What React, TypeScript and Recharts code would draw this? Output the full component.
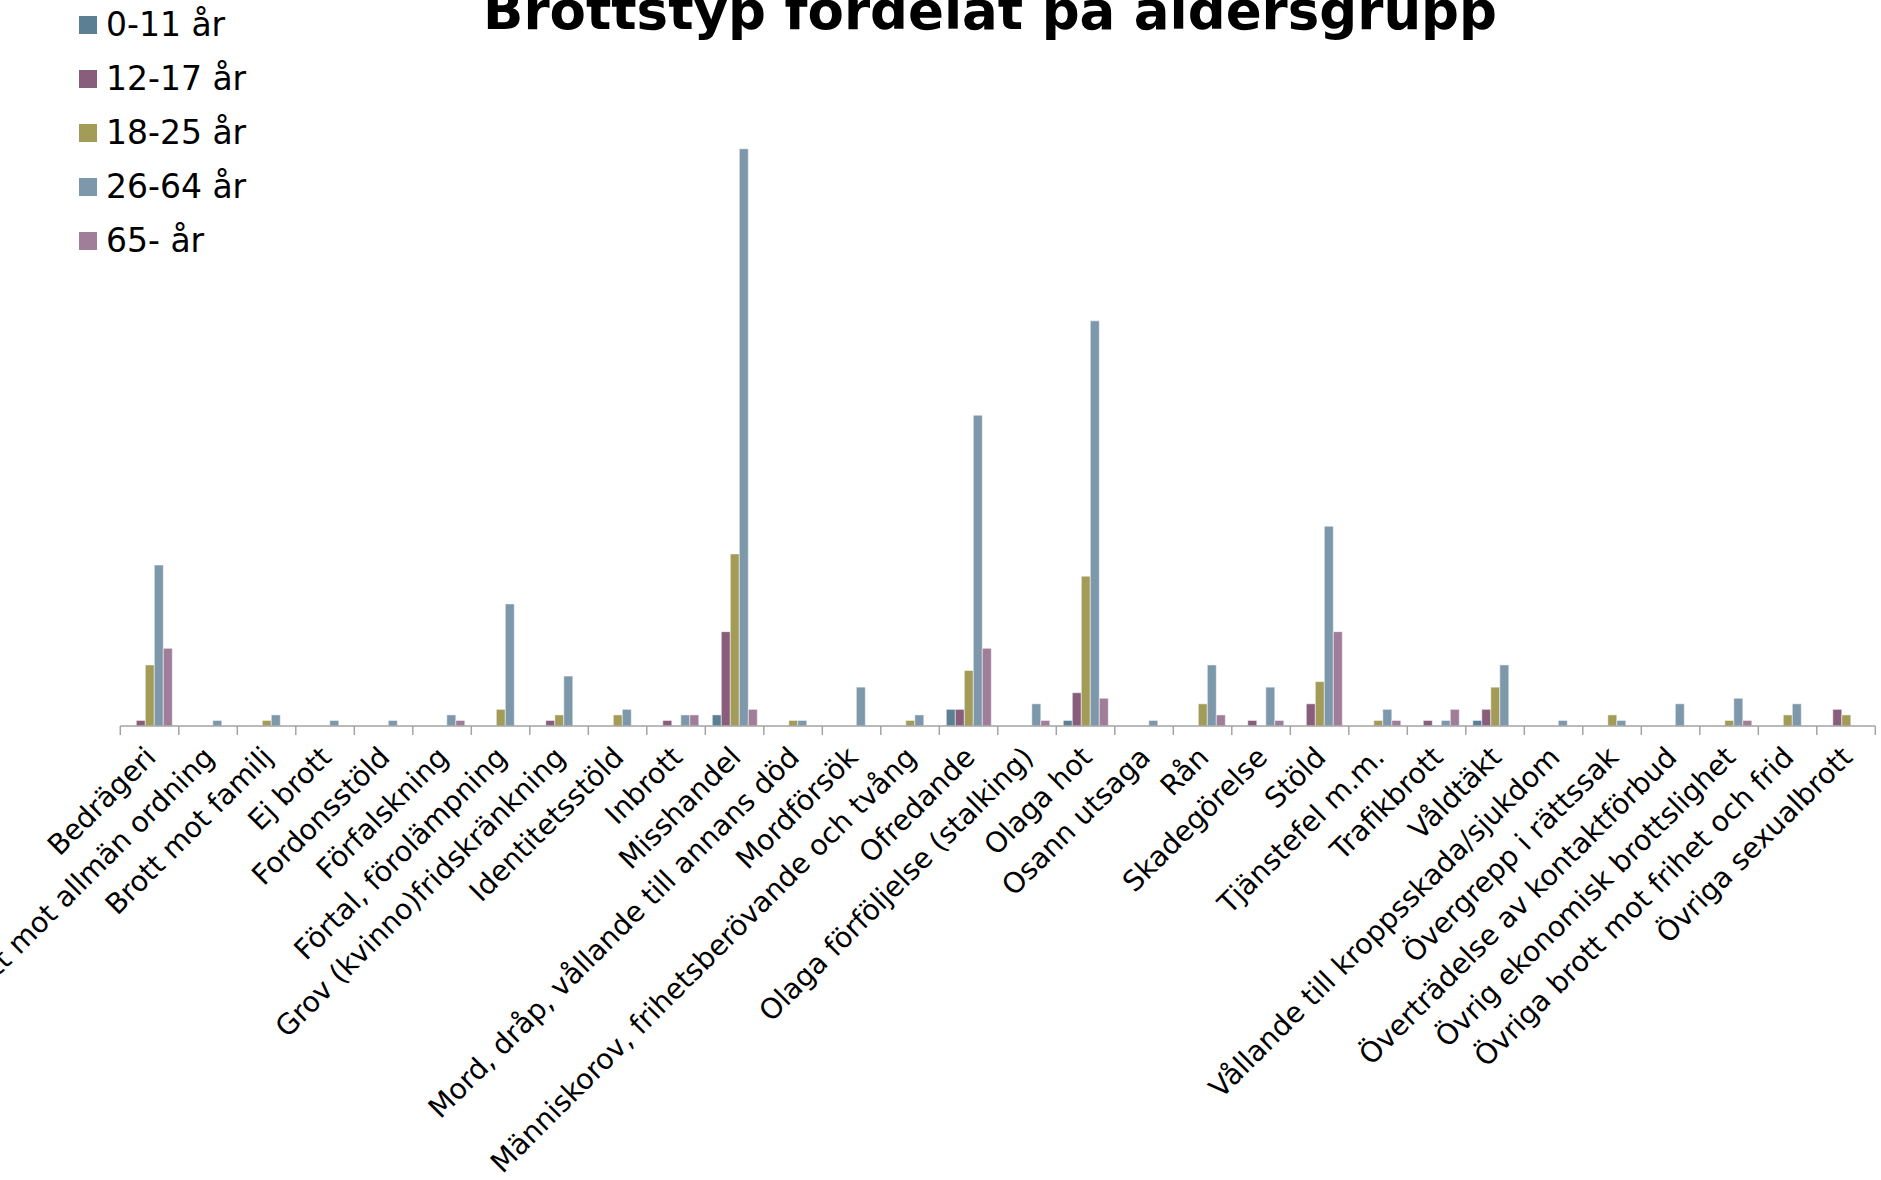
import React from "react";
import { BarChart, Bar, XAxis, YAxis, Legend } from "recharts";

const categories = [
  "Bedrägeri",
  "Brott mot allmän ordning",
  "Brott mot familj",
  "Ej brott",
  "Fordonsstöld",
  "Förfalskning",
  "Förtal, förolämpning",
  "Grov (kvinno)fridskränkning",
  "Identitetsstöld",
  "Inbrott",
  "Misshandel",
  "Mord, dråp, vållande till annans död",
  "Mordförsök",
  "Människorov, frihetsberövande och tvång",
  "Ofredande",
  "Olaga förföljelse (stalking)",
  "Olaga hot",
  "Osann utsaga",
  "Rån",
  "Skadegörelse",
  "Stöld",
  "Tjänstefel m.m.",
  "Trafikbrott",
  "Våldtäkt",
  "Vållande till kroppsskada/sjukdom",
  "Övergrepp i rättssak",
  "Överträdelse av kontaktförbud",
  "Övrig ekonomisk brottslighet",
  "Övriga brott mot frihet och frid",
  "Övriga sexualbrott",
];

const age0to11 = [0, 0, 0, 0, 0, 0, 0, 0, 0, 0, 2, 0, 0, 0, 3, 0, 1, 0, 0, 0, 0, 0, 0, 1, 0, 0, 0, 0, 0, 0];
const age12to17 = [1, 0, 0, 0, 0, 0, 0, 1, 0, 1, 17, 0, 0, 0, 3, 0, 6, 0, 0, 1, 4, 0, 1, 3, 0, 0, 0, 0, 0, 3];
const age18to25 = [11, 0, 1, 0, 0, 0, 3, 2, 2, 0, 31, 1, 0, 1, 10, 0, 27, 0, 4, 0, 8, 1, 0, 7, 0, 2, 0, 1, 2, 2];
const age26to64 = [29, 1, 2, 1, 1, 2, 22, 9, 3, 2, 104, 1, 7, 2, 56, 4, 73, 1, 11, 7, 36, 3, 1, 11, 1, 1, 4, 5, 4, 0];
const age65plus = [14, 0, 0, 0, 0, 1, 0, 0, 0, 2, 3, 0, 0, 0, 14, 1, 5, 0, 2, 1, 17, 1, 3, 0, 0, 0, 0, 1, 0, 0];

const seriesNames = ["0-11 år", "12-17 år", "18-25 år", "26-64 år", "65- år"];
const seriesKeys = ["a", "b", "c", "d", "e"];
const seriesColors = ["#5b7f93", "#895e7d", "#a39c59", "#7d98aa", "#a07d99"];
const seriesValues = [age0to11, age12to17, age18to25, age26to64, age65plus];

const title = "Brottstyp fördelat på åldersgrupp";

const data = categories.map((name, i) => {
  const row: Record<string, any> = { name };
  seriesKeys.forEach((k, s) => {
    row[k] = seriesValues[s][i];
  });
  return row;
});

const BAND = 58.5;
const AXIS_COLOR = "#a3a3a3";
const FONT = "'DejaVu Sans', Verdana, sans-serif";

function CategoryTick(props: any) {
  const { x, y, payload, index } = props;
  const left = x - BAND / 2;
  const ax = x + 8;
  const ay = y + 33;
  return (
    <g>
      <line x1={left} x2={left} y1={y} y2={y + 9} stroke={AXIS_COLOR} strokeWidth={1.5} />
      {index === categories.length - 1 && (
        <line x1={x + BAND / 2} x2={x + BAND / 2} y1={y} y2={y + 9} stroke={AXIS_COLOR} strokeWidth={1.5} />
      )}
      <text
        x={ax}
        y={ay}
        textAnchor="end"
        transform={`rotate(-45 ${ax} ${ay})`}
        fontSize={28.3}
        fontFamily={FONT}
        fill="#000"
      >
        {payload.value}
      </text>
    </g>
  );
}

function LegendContent() {
  return (
    <svg width={340} height={300} style={{ display: "block" }}>
      {seriesNames.map((n, i) => (
        <g key={n}>
          <rect x={79} y={16 + i * 54} width={18} height={18} fill={seriesColors[i]} />
          <text x={106} y={36 + i * 54} fontSize={33} fontFamily={FONT} fill="#000">
            {n}
          </text>
        </g>
      ))}
    </svg>
  );
}

export default function App() {
  return (
    <div style={{ position: "absolute", left: 0, top: 0, width: 1881, height: 1180, background: "#fff" }}>
      <BarChart
        width={1881}
        height={1180}
        data={data}
        margin={{ top: 60, right: 5.7, bottom: 0, left: 120.3 }}
        barGap={0}
        barSize={9}
      >
        <XAxis
          dataKey="name"
          interval={0}
          height={454}
          tickSize={0}
          tickMargin={0}
          tickLine={false}
          axisLine={{ stroke: AXIS_COLOR, strokeWidth: 1.5 }}
          tick={<CategoryTick />}
        />
        <YAxis hide domain={[0, 120]} />
        <Legend
          layout="vertical"
          align="center"
          verticalAlign="middle"
          content={<LegendContent />}
          wrapperStyle={{ left: 0, top: 0, width: 340, height: 300 }}
        />
        {seriesKeys.map((k, i) => (
          <Bar
            key={k}
            dataKey={k}
            name={seriesNames[i]}
            fill={seriesColors[i]}
            stroke="#ffffff"
            strokeOpacity={0.5}
            strokeWidth={1}
            isAnimationActive={false}
          />
        ))}
      </BarChart>
      <svg
        width={1881}
        height={80}
        style={{ position: "absolute", left: 0, top: 0, pointerEvents: "none" }}
      >
        <text x={990} y={29} textAnchor="middle" fontSize={53} fontWeight="bold" fontFamily={FONT} fill="#000">
          {title}
        </text>
      </svg>
    </div>
  );
}
